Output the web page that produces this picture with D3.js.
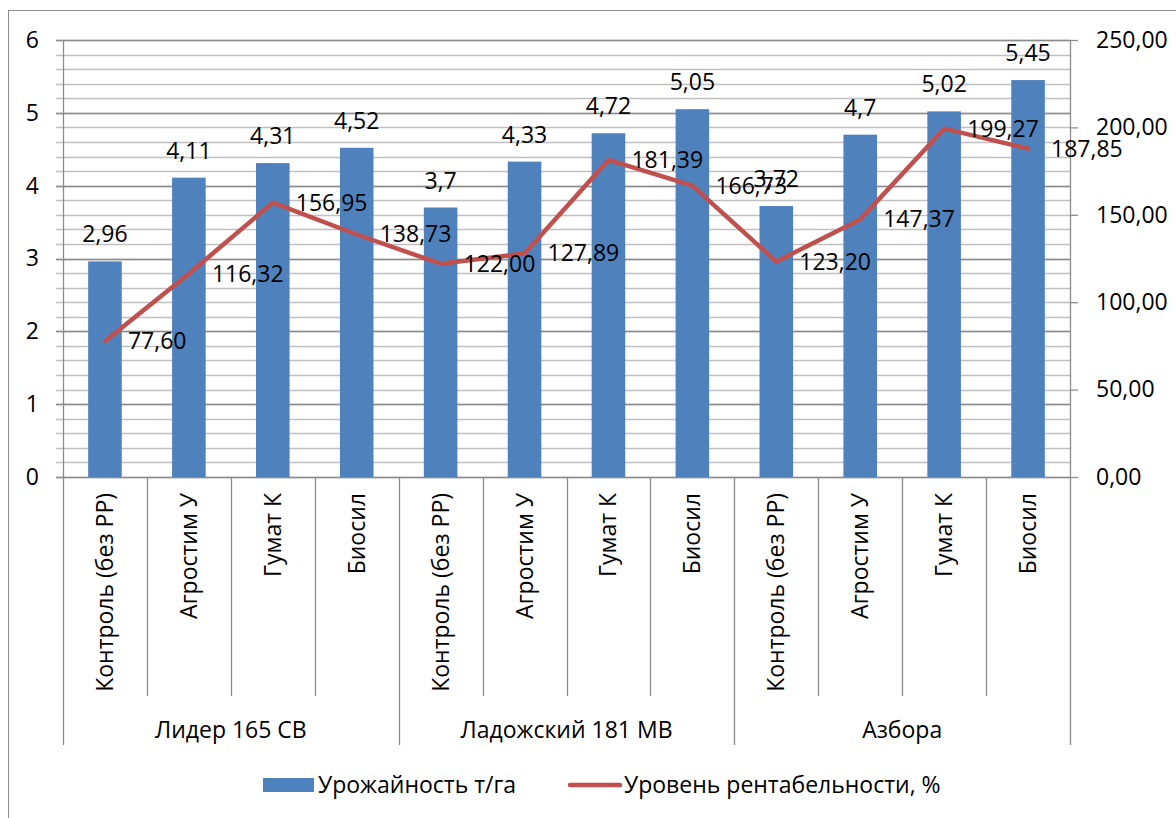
<!DOCTYPE html>
<html lang="ru">
<head>
<meta charset="UTF-8">
<title>Урожайность и рентабельность</title>
<script src="https://d3js.org/d3.v7.min.js"></script>
<style>
  body { margin: 0; background: #fff; }
  svg text { font-family: "Open Sans", sans-serif; fill: #000; }
</style>
</head>
<body>
<div id="chart"></div>
<script>
// data
var groups = ["Лидер 165 СВ", "Ладожский 181 МВ", "Азбора"]
var treatments = ["Контроль (без РР)", "Агростим У", "Гумат К", "Биосил"]
var yieldVals = [2.96, 4.11, 4.31, 4.52, 3.7, 4.33, 4.72, 5.05, 3.72, 4.7, 5.02, 5.45]
var yieldLabels = ["2,96", "4,11", "4,31", "4,52", "3,7", "4,33", "4,72", "5,05", "3,72", "4,7", "5,02", "5,45"]
var profitVals = [77.60, 116.32, 156.95, 138.73, 122.00, 127.89, 181.39, 166.73, 123.20, 147.37, 199.27, 187.85]
var leftTicks = [0, 1, 2, 3, 4, 5, 6]
var rightTicks = [0, 50, 100, 150, 200, 250]
var seriesNames = ["Урожайность т/га", "Уровень рентабельности, %"]

var width = 1176, height = 818
// plot area edges (don't call these "top": it clashes with window.top)
var pLeft = 63, pRight = 1070, pTop = 40, pBottom = 477
var blue = "#4F81BD", red = "#C0504D", grey = "#8c8c8c"
var fs = "23px"
var ru2 = function(d) { return d3.format(".2f")(d).replace(".", ",") }

var svg = d3.select("#chart").append("svg")
  .attr("width", width)
  .attr("height", height)

// outer frame
svg.append("rect")
  .attr("x", 8.5).attr("y", 10.5)
  .attr("width", 1200).attr("height", 900)
  .attr("fill", "none").attr("stroke", grey)

// one key per bar
var keys = d3.range(groups.length * treatments.length)

var x = d3.scaleBand().domain(keys).range([pLeft, pRight]).paddingInner(0.6).paddingOuter(0.3)
var xc = function(i) { return x(i) + x.bandwidth() / 2 }
var step = (pRight - pLeft) / keys.length
var y = d3.scaleLinear().domain([0, 6]).range([pBottom, pTop])
var y2 = d3.scaleLinear().domain([0, 250]).range([pBottom, pTop])

// gridlines, minor then major
var minor = d3.range(0, 6.01, 0.2)
svg.append("g").selectAll("line").data(minor).enter().append("line")
  .attr("x1", pLeft - 7).attr("x2", pRight)
  .attr("y1", function(d) { return Math.round(y(d)) + 0.5 })
  .attr("y2", function(d) { return Math.round(y(d)) + 0.5 })
  .attr("stroke", "#c0c0c0").attr("stroke-width", 1.3)
svg.append("g").selectAll("line").data(leftTicks).enter().append("line")
  .attr("x1", pLeft - 7).attr("x2", pRight)
  .attr("y1", function(d) { return Math.round(y(d)) + 0.5 })
  .attr("y2", function(d) { return Math.round(y(d)) + 0.5 })
  .attr("stroke", grey).attr("stroke-width", 1.3)

// left axis
var yAxis = d3.axisLeft(y).tickValues(leftTicks).tickSize(0).tickPadding(24).tickFormat(d3.format("d"))
svg.append("g").attr("transform", "translate(" + pLeft + ",0)").call(yAxis)
  .call(function(g) { g.select(".domain").remove() })
  .selectAll("text").style("font-size", fs).style("font-family", "'Open Sans', sans-serif")

// right axis
var yAxis2 = d3.axisRight(y2).tickValues(rightTicks).tickSize(8).tickPadding(18).tickFormat(ru2)
svg.append("g").attr("transform", "translate(" + pRight + ",0)").call(yAxis2)
  .call(function(g) {
    g.select(".domain").attr("stroke", grey).attr("stroke-width", 1.3).attr("d", "M0.5," + pTop + "V" + pBottom)
    g.selectAll(".tick line").attr("stroke", grey).attr("stroke-width", 1.3)
  })
  .selectAll("text").style("font-size", fs).style("font-family", "'Open Sans', sans-serif")

// left axis line
svg.append("line")
  .attr("x1", pLeft + 0.5).attr("x2", pLeft + 0.5).attr("y1", pTop).attr("y2", 745)
  .attr("stroke", grey).attr("stroke-width", 1.3)

// category separators
var seps = d3.range(1, keys.length + 1)
svg.append("g").selectAll("line").data(seps).enter().append("line")
  .attr("x1", function(d) { return Math.round(pLeft + d * step) + 0.5 })
  .attr("x2", function(d) { return Math.round(pLeft + d * step) + 0.5 })
  .attr("y1", pBottom)
  .attr("y2", function(d) { return d % 4 === 0 ? 745 : 696 })
  .attr("stroke", grey).attr("stroke-width", 1.3)

// bars
svg.append("g").selectAll("rect").data(yieldVals).enter().append("rect")
  .attr("x", function(d, i) { return x(i) })
  .attr("y", function(d) { return y(d) })
  .attr("width", x.bandwidth())
  .attr("height", function(d) { return pBottom - y(d) })
  .attr("fill", blue)

// line
var line = d3.line()
  .x(function(d, i) { return xc(i) })
  .y(function(d) { return y2(d) })
svg.append("path").datum(profitVals)
  .attr("d", line)
  .attr("fill", "none").attr("stroke", red)
  .attr("stroke-width", 4.5).attr("stroke-linejoin", "round").attr("stroke-linecap", "round")

// bar labels
svg.append("g").selectAll("text").data(yieldVals).enter().append("text")
  .attr("x", function(d, i) { return xc(i) })
  .attr("y", function(d) { return y(d) - 19 })
  .attr("text-anchor", "middle")
  .style("font-size", fs)
  .text(function(d, i) { return yieldLabels[i] })

// line labels, to the right of points
svg.append("g").selectAll("text").data(profitVals).enter().append("text")
  .attr("x", function(d, i) { return xc(i) + 23 })
  .attr("y", function(d) { return y2(d) + 8 })
  .style("font-size", fs)
  .text(ru2)

// category labels (rotated)
svg.append("g").selectAll("text").data(keys).enter().append("text")
  .attr("transform", function(d) { return "translate(" + (xc(d) + 8) + ",493) rotate(-90)" })
  .attr("text-anchor", "end")
  .style("font-size", fs)
  .text(function(d) { return treatments[d % 4] })

// group labels
svg.append("g").selectAll("text").data(groups).enter().append("text")
  .attr("x", function(d, i) { return pLeft + (i * 4 + 2) * step })
  .attr("y", 738)
  .attr("text-anchor", "middle")
  .style("font-size", fs)
  .text(function(d) { return d })

// legend
var lg = svg.append("g")
lg.append("rect").attr("x", 263).attr("y", 778).attr("width", 51).attr("height", 14).attr("fill", blue)
lg.append("text").attr("x", 318).attr("y", 793).style("font-size", fs).text(seriesNames[0])
lg.append("line").attr("x1", 570).attr("x2", 620).attr("y1", 785).attr("y2", 785)
  .attr("stroke", red).attr("stroke-width", 4.5).attr("stroke-linecap", "round")
lg.append("text").attr("x", 624).attr("y", 793).style("font-size", fs).text(seriesNames[1])
</script>
</body>
</html>
